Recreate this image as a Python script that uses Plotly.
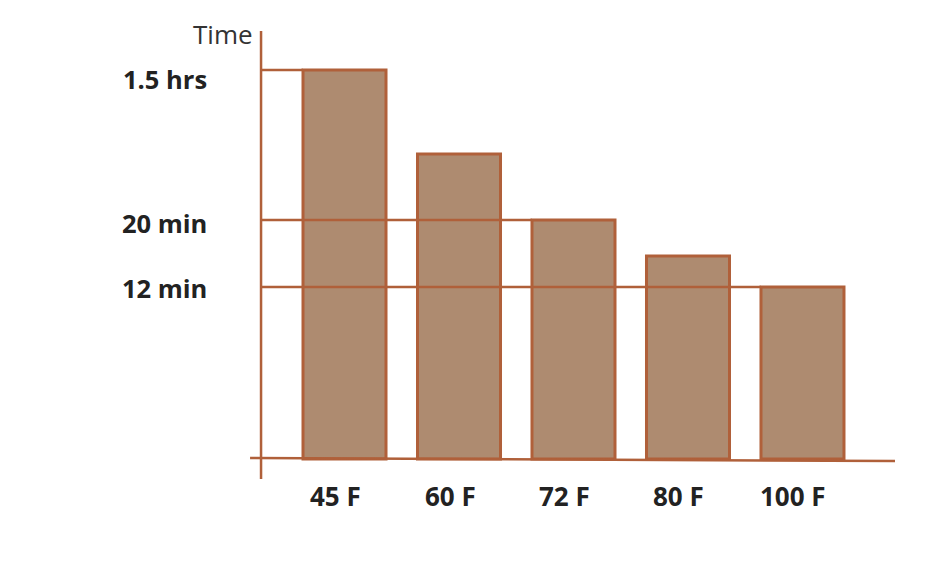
import plotly.graph_objects as go

# categories + bar heights (sketch units, baseline = 0)
temps = ["45 F", "60 F", "72 F", "80 F", "100 F"]
bar_heights = [389, 305, 239, 203, 172]
# labelled levels on the time axis
time_ticks = [389, 239, 172]
time_labels = ["1.5 hrs", "20 min", "12 min"]

fill_col = "#ae8b70"
line_col = "#b0603a"
text_col = "#222222"
font_fam = "Open Sans, Lato, sans-serif"

bar_w = 0.725
axis_x = -0.729

fig = go.Figure()
fig.add_trace(go.Bar(
    x=list(range(len(temps))), y=bar_heights, width=bar_w,
    marker=dict(color=fill_col, line=dict(color=line_col, width=3)),
    hoverinfo="skip"))

# reference lines: from the axis to the bar that reaches that level
for val in time_ticks:
    idx = bar_heights.index(val)
    fig.add_shape(type="line", x0=axis_x, x1=idx - bar_w / 2, y0=val, y1=val,
                  line=dict(color=line_col, width=2.5), layer="above")

# axes drawn by hand (sketch style)
fig.add_shape(type="line", x0=axis_x, x1=axis_x, y0=-20, y1=428,
              line=dict(color=line_col, width=2.5), layer="above")
fig.add_shape(type="line", x0=-0.825, x1=4.808, y0=1, y1=-2,
              line=dict(color=line_col, width=2.5), layer="above")

# y labels
nudge = [-9, -3, -1]
for val, lab, dy in zip(time_ticks, time_labels, nudge):
    fig.add_annotation(x=axis_x, y=val, text="<b>" + lab + "</b>", showarrow=False,
                       xanchor="right", yanchor="middle", xshift=-52, yshift=dy,
                       font=dict(size=25.5, color=text_col, family=font_fam))
fig.add_annotation(x=axis_x, y=425, text="Time", showarrow=False,
                   xanchor="right", yanchor="middle", xshift=-6,
                   font=dict(size=26, color="#333333", family=font_fam))

# x labels
for i, t in enumerate(temps):
    fig.add_annotation(x=i, y=-37, text="<b>" + t + "</b>", showarrow=False,
                       xanchor="center", yanchor="middle", xshift=-9,
                       font=dict(size=26, color=text_col, family=font_fam))

fig.update_layout(
    width=932, height=566,
    margin=dict(l=0, r=0, t=0, b=0),
    paper_bgcolor="white", plot_bgcolor="white",
    showlegend=False,
    xaxis=dict(range=[-2.939, 5.201], visible=False, fixedrange=True),
    yaxis=dict(range=[-115, 451], visible=False, fixedrange=True),
)

fig.write_html("out.html")
